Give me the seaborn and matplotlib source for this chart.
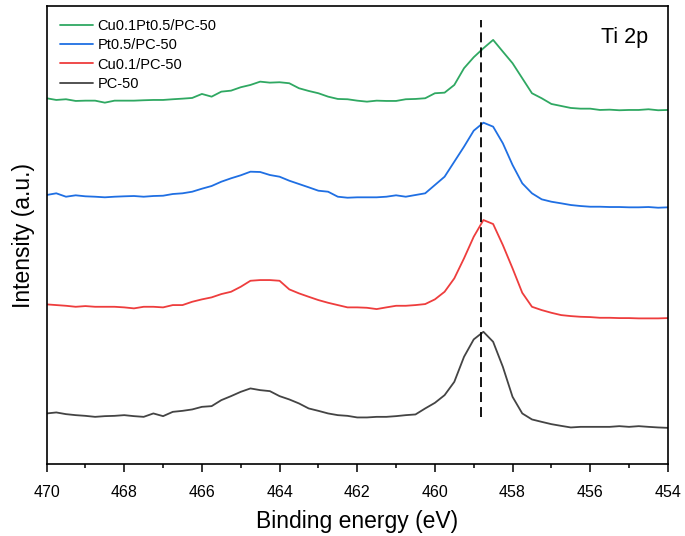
import numpy as np
import pandas as pd
import matplotlib.pyplot as plt
import seaborn as sns

# binding energy grid (eV)
energy = [470.0, 469.75, 469.5, 469.25, 469.0, 468.75, 468.5, 468.25, 468.0, 467.75,
          467.5, 467.25, 467.0, 466.75, 466.5, 466.25, 466.0, 465.75, 465.5, 465.25,
          465.0, 464.75, 464.5, 464.25, 464.0, 463.75, 463.5, 463.25, 463.0, 462.75,
          462.5, 462.25, 462.0, 461.75, 461.5, 461.25, 461.0, 460.75, 460.5, 460.25,
          460.0, 459.75, 459.5, 459.25, 459.0, 458.75, 458.5, 458.25, 458.0, 457.75,
          457.5, 457.25, 457.0, 456.75, 456.5, 456.25, 456.0, 455.75, 455.5, 455.25,
          455.0, 454.75, 454.5, 454.25, 454.0]

# stacked intensities (a.u., offset already included)
pc50 = [50.7, 51.7, 50.0, 49.0, 48.3, 47.3, 48.0, 48.3, 49.0, 48.0,
        47.3, 50.7, 48.0, 52.3, 53.3, 54.7, 57.3, 58.0, 64.0, 68.0,
        72.3, 75.7, 74.0, 73.0, 68.0, 64.7, 60.7, 55.7, 53.3, 50.7,
        49.0, 48.3, 46.7, 46.7, 47.3, 47.3, 48.0, 49.0, 49.7, 55.7,
        61.3, 69.0, 82.3, 107.3, 124.7, 132.3, 122.3, 97.3, 67.3, 50.7,
        44.7, 42.3, 40.0, 38.3, 36.7, 37.3, 37.3, 37.3, 37.3, 38.0,
        37.3, 38.0, 37.3, 36.7, 36.3]

cu01 = [159.7, 159.0, 158.3, 157.3, 158.0, 157.3, 157.3, 157.3, 156.7, 155.7,
        157.3, 157.3, 156.7, 159.0, 159.0, 162.3, 164.7, 166.7, 170.0, 172.3,
        177.3, 183.3, 184.0, 184.0, 183.3, 174.7, 170.7, 167.3, 164.0, 161.3,
        159.0, 156.7, 156.7, 156.3, 155.0, 156.7, 158.3, 158.3, 159.0, 160.0,
        164.7, 172.3, 185.7, 205.7, 227.3, 244.0, 240.0, 219.0, 195.7, 171.3,
        157.3, 154.0, 151.3, 149.0, 148.0, 147.3, 147.0, 146.3, 146.3, 146.0,
        146.0, 145.7, 145.7, 145.7, 146.0]

pt05 = [269.0, 270.7, 267.3, 268.7, 267.7, 267.3, 266.7, 267.3, 267.7, 268.0,
        267.3, 268.0, 268.3, 270.0, 270.7, 272.3, 275.3, 278.0, 282.3, 285.7,
        288.7, 292.3, 292.0, 289.0, 287.3, 283.3, 280.0, 276.7, 273.3, 272.3,
        267.3, 266.3, 266.7, 266.7, 266.7, 267.3, 268.7, 267.3, 269.0, 270.7,
        279.0, 287.3, 302.3, 317.3, 333.3, 341.3, 337.3, 320.7, 299.0, 280.7,
        270.7, 264.7, 262.3, 260.7, 259.0, 258.0, 257.3, 257.3, 257.0, 257.0,
        256.7, 256.7, 257.0, 256.3, 256.7]

cu01pt05 = [365.7, 364.0, 364.7, 363.0, 363.3, 363.3, 361.3, 363.3, 363.3, 363.3,
            363.7, 364.0, 364.0, 364.7, 365.3, 366.0, 370.0, 367.3, 372.3, 373.3,
            376.7, 379.0, 382.3, 381.3, 381.7, 380.7, 375.7, 373.0, 370.7, 367.3,
            365.0, 364.7, 363.3, 362.3, 363.3, 363.0, 363.0, 364.7, 365.0, 365.7,
            370.7, 371.3, 379.0, 395.7, 406.7, 415.7, 424.0, 412.3, 400.7, 385.7,
            370.7, 365.7, 360.0, 358.0, 356.0, 355.3, 355.3, 354.0, 354.3, 353.7,
            354.0, 354.0, 354.7, 353.7, 354.0]

labels = ['Cu0.1Pt0.5/PC-50', 'Pt0.5/PC-50', 'Cu0.1/PC-50', 'PC-50']
series = [cu01pt05, pt05, cu01, pc50]
colors = {'Cu0.1Pt0.5/PC-50': '#2fa862', 'Pt0.5/PC-50': '#1f6fe3',
          'Cu0.1/PC-50': '#ee3d3d', 'PC-50': '#444444'}
ref_peak = 458.8

df = pd.concat([pd.DataFrame({'energy': energy, 'intensity': s, 'sample': lab})
                for lab, s in zip(labels, series)], ignore_index=True)

sns.set_theme(style='ticks')
plt.rcParams['font.family'] = ['Liberation Sans', 'DejaVu Sans']
plt.rcParams['text.color'] = 'black'
plt.rcParams['axes.labelcolor'] = 'black'
plt.rcParams['xtick.color'] = 'black'

fig = plt.figure(figsize=(6.85, 5.36), dpi=100)
ax = fig.add_axes([0.068, 0.134, 0.907, 0.855])

sns.lineplot(data=df, x='energy', y='intensity', hue='sample', hue_order=labels,
             palette=colors, linewidth=1.3, sort=False, ax=ax)

ax.axvline(ref_peak, ymin=0.103, ymax=0.969, color='black', linewidth=1.3,
           linestyle=(0, (5.5, 2.8)))

ax.set_xlim(470, 454)
ax.set_ylim(0, 458)
ax.set_xticks([470, 468, 466, 464, 462, 460, 458, 456, 454])
ax.set_xticks([469, 467, 465, 463, 461, 459, 457, 455], minor=True)
ax.set_yticks([])
ax.tick_params(axis='x', which='major', direction='out', length=6, width=1.1,
               labelsize=11.5, colors='black', pad=9)
ax.tick_params(axis='x', which='minor', direction='out', length=3, width=1.1,
               color='black')
for sp in ax.spines.values():
    sp.set_visible(True)
    sp.set_color('black')
    sp.set_linewidth(1.2)

ax.set_xlabel('Binding energy (eV)', fontsize=16.5, labelpad=7)
ax.set_ylabel('Intensity (a.u.)', fontsize=16.5, labelpad=8)

ax.text(0.968, 0.932, 'Ti 2p', transform=ax.transAxes, ha='right', va='center',
        fontsize=15.5, color='black')

leg = ax.legend(loc='upper left', frameon=False, fontsize=10.5, labelspacing=0.36,
                handlelength=2.3, handletextpad=0.3, borderaxespad=0.5, title=None)
for t in leg.get_texts():
    t.set_color('black')

fig.savefig('out.png', dpi=100)
